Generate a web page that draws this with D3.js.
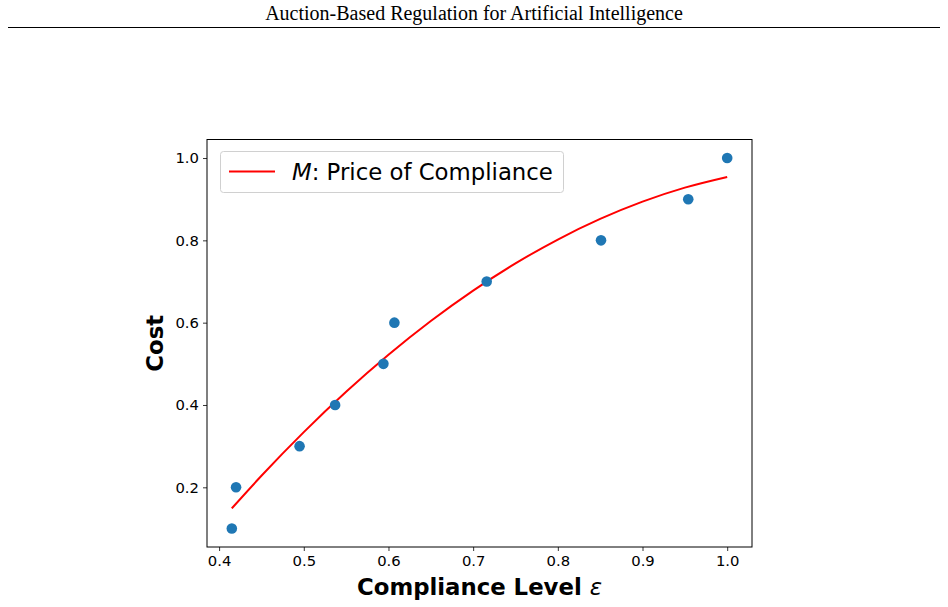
<!DOCTYPE html>
<html>
<head>
<meta charset="utf-8">
<script src="https://cdn.jsdelivr.net/npm/d3@7"></script>
<style>
  body { margin: 0; background: #fff; }
  svg { display: block; }
</style>
</head>
<body>
<div id="chart"></div>
<script>
// scatter points (compliance level, cost)
const pointX = [0.415, 0.42, 0.495, 0.537, 0.594, 0.607, 0.716, 0.851, 0.954, 1.0];
const pointY = [0.1, 0.2, 0.3, 0.4, 0.5, 0.6, 0.7, 0.8, 0.9, 1.0];

// fitted price-of-compliance curve
const curveX = [0.415, 0.45, 0.5, 0.55, 0.6, 0.65, 0.7, 0.75, 0.8, 0.85, 0.9, 0.95, 1.0];
const curveY = [0.149, 0.228, 0.334, 0.432, 0.522, 0.604, 0.678, 0.744, 0.802, 0.852, 0.894, 0.928, 0.954];

const xTicks = [0.4, 0.5, 0.6, 0.7, 0.8, 0.9, 1.0];
const yTicks = [0.2, 0.4, 0.6, 0.8, 1.0];

const W = 948, H = 607;
const plot = { left: 207, right: 752, top: 139.5, bottom: 547 };

const svg = d3.select("#chart").append("svg")
    .attr("width", W)
    .attr("height", H);

// page header
svg.append("text")
    .attr("x", 474)
    .attr("y", 20)
    .attr("text-anchor", "middle")
    .style("font-family", "'Liberation Serif', 'DejaVu Serif', serif")
    .style("font-size", "20px")
    .text("Auction-Based Regulation for Artificial Intelligence");

svg.append("line")
    .attr("x1", 8).attr("x2", 940)
    .attr("y1", 27.5).attr("y2", 27.5)
    .attr("stroke", "#000")
    .attr("stroke-width", 1);

const x = d3.scaleLinear().domain([0.3857, 1.0293]).range([plot.left, plot.right]);
const y = d3.scaleLinear().domain([0.055, 1.045]).range([plot.bottom, plot.top]);

const font = "'DejaVu Sans', sans-serif";

// axes
const xAxis = svg.append("g")
    .attr("transform", `translate(0,${plot.bottom})`)
    .call(d3.axisBottom(x).tickValues(xTicks).tickSize(4).tickPadding(4).tickFormat(d3.format(".1f")));
const yAxis = svg.append("g")
    .attr("transform", `translate(${plot.left},0)`)
    .call(d3.axisLeft(y).tickValues(yTicks).tickSize(4).tickPadding(4).tickFormat(d3.format(".1f")));

[xAxis, yAxis].forEach(g => {
    g.select(".domain").remove();
    g.selectAll("text").style("font-family", font).style("font-size", "14.8px").attr("fill", "#000");
    g.selectAll("line").attr("stroke", "#000").attr("stroke-width", 0.8);
});

// frame
svg.append("rect")
    .attr("x", plot.left).attr("y", plot.top)
    .attr("width", plot.right - plot.left)
    .attr("height", plot.bottom - plot.top)
    .attr("fill", "none")
    .attr("stroke", "#000")
    .attr("stroke-width", 1);

// fitted line
const curveData = curveX.map((v, i) => ({ x: v, y: curveY[i] }));
svg.append("path")
    .datum(curveData)
    .attr("fill", "none")
    .attr("stroke", "#ff0000")
    .attr("stroke-width", 2)
    .attr("d", d3.line().x(d => x(d.x)).y(d => y(d.y)).curve(d3.curveMonotoneX));

// points
const pts = pointX.map((v, i) => ({ x: v, y: pointY[i] }));
svg.selectAll(".dot")
    .data(pts)
    .enter().append("circle")
    .attr("class", "dot")
    .attr("cx", d => x(d.x))
    .attr("cy", d => y(d.y))
    .attr("r", 5.3)
    .attr("fill", "#1f77b4");

// axis labels
svg.append("text")
    .attr("x", (plot.left + plot.right) / 2)
    .attr("y", 595)
    .attr("text-anchor", "middle")
    .style("font-family", font)
    .style("font-size", "22.8px")
    .style("font-weight", "bold")
    .html("Compliance Level <tspan font-weight='normal' font-style='italic'>ε</tspan>");

svg.append("text")
    .attr("transform", `translate(163,${(plot.top + plot.bottom) / 2}) rotate(-90)`)
    .attr("text-anchor", "middle")
    .style("font-family", font)
    .style("font-size", "22.8px")
    .style("font-weight", "bold")
    .text("Cost");

// legend
const lg = svg.append("g");
lg.append("rect")
    .attr("x", 220.5).attr("y", 151.5)
    .attr("width", 343).attr("height", 41)
    .attr("rx", 3)
    .attr("fill", "#fff")
    .attr("fill-opacity", 0.8)
    .attr("stroke", "#d0d0d0");
lg.append("line")
    .attr("x1", 229).attr("x2", 275)
    .attr("y1", 171.5).attr("y2", 171.5)
    .attr("stroke", "#ff0000")
    .attr("stroke-width", 2);
lg.append("text")
    .attr("x", 292)
    .attr("y", 179.5)
    .style("font-family", font)
    .style("font-size", "22.8px")
    .html("<tspan font-style='italic'>M</tspan>: Price of Compliance");
</script>
</body>
</html>
